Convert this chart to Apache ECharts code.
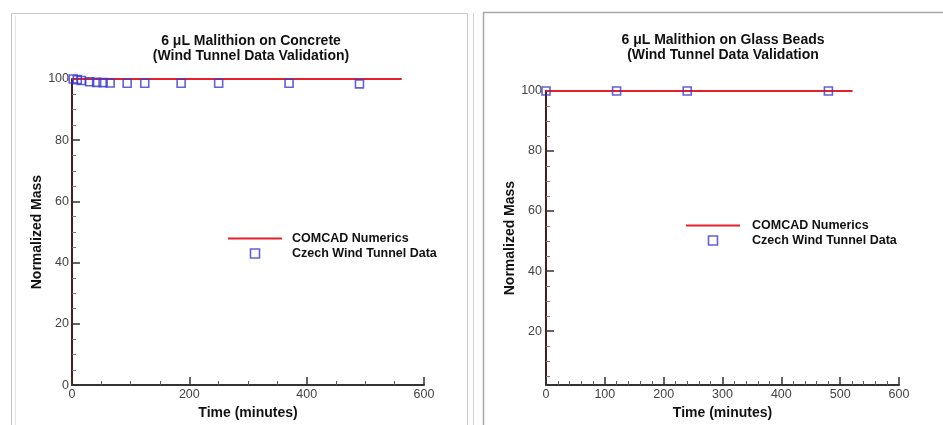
<!DOCTYPE html>
<html><head><meta charset="utf-8">
<script src="https://cdn.jsdelivr.net/npm/echarts@6/dist/echarts.min.js"></script>
<style>html,body{margin:0;padding:0;background:#fff}#c{width:943px;height:425px}</style>
</head><body><div id="c"></div>
<script>
// Left panel: concrete
const concreteLineX = [0, 562];
const concreteLineY = [100, 100];
const concreteTime = [2, 9, 16, 30, 42, 53, 65, 94, 124, 186, 250, 370, 490];
const concreteMass = [100, 99.8, 99.5, 99.1, 98.9, 98.8, 98.7, 98.6, 98.6, 98.6, 98.6, 98.6, 98.4];
// Right panel: glass beads
const beadsLineX = [0, 521];
const beadsLineY = [100, 100];
const beadsTime = [0, 120, 240, 480];
const beadsMass = [100, 100, 100, 100];
// ticks
const rightYTicks = [20, 40, 60, 80, 100];
const rightYMinor = [5, 10, 15, 25, 30, 35, 45, 50, 55, 65, 70, 75, 85, 90, 95];
const seriesNames = ['COMCAD Numerics', 'Czech Wind Tunnel Data'];

const chart = echarts.init(document.getElementById('c'));
const FONT = '"Liberation Sans", Arial, sans-serif';
const lblStyle = {fontFamily: FONT, fontSize: 12.5, color: '#444'};
const nameStyle = {fontFamily: FONT, fontSize: 14, fontWeight: 'bold', color: '#111'};
const yLine = {show: true, lineStyle: {color: '#4a1c1c', width: 2}};
const xLine = {show: true, onZero: false, lineStyle: {color: '#333', width: 2}};
const zip = (a, b) => a.map((v, i) => [v, b[i]]);
const RED = '#e3212b', BLUE = '#3a3ad0';
const legendData = [
  {name: seriesNames[0], icon: 'path://M0 0H54V2H0Z', itemStyle: {color: RED, borderWidth: 0}},
  {name: seriesNames[1], icon: 'path://M0 0H10V10H0Z', itemStyle: {color: 'rgba(255,255,255,0)', borderColor: BLUE, borderWidth: 1.6}}
];
const legendText = {fontFamily: FONT, fontSize: 12.5, fontWeight: 'bold', color: '#111'};

chart.setOption({
  animation: false,
  backgroundColor: '#fff',
  title: [
    {text: '6 \u03bcL Malithion on Concrete\n(Wind Tunnel Data Validation)', left: 246, top: 29, textAlign: 'center',
     textStyle: {fontFamily: FONT, fontSize: 14, fontWeight: 'bold', color: '#111', lineHeight: 15}},
    {text: '6 \u03bcL Malithion on Glass Beads\n(Wind Tunnel Data Validation', left: 718, top: 28, textAlign: 'center',
     textStyle: {fontFamily: FONT, fontSize: 14, fontWeight: 'bold', color: '#111', lineHeight: 15}}
  ],
  legend: [
    {orient: 'vertical', left: 223, top: 227, itemWidth: 54, itemHeight: 9, itemGap: 2, symbolKeepAspect: true,
     data: legendData, textStyle: Object.assign({padding: [0, 0, 0, 5]}, legendText)},
    {orient: 'vertical', left: 681, top: 214, itemWidth: 54, itemHeight: 9, itemGap: 2, symbolKeepAspect: true,
     data: legendData, textStyle: Object.assign({padding: [0, 0, 0, 7]}, legendText)}
  ],
  graphic: [
    {type: 'rect', shape: {x: 11.5, y: 13.5, width: 456, height: 430}, style: {fill: 'none', stroke: '#c8c8c8', lineWidth: 1}, silent: true},
    {type: 'line', shape: {x1: 15.5, y1: 16, x2: 15.5, y2: 425}, style: {stroke: '#e4e4e4', lineWidth: 1}, silent: true},
    {type: 'line', shape: {x1: 473.5, y1: 13, x2: 473.5, y2: 425}, style: {stroke: '#d0d0d0', lineWidth: 1}, silent: true},
    {type: 'rect', shape: {x: 483.5, y: 12.5, width: 470, height: 430}, style: {fill: 'none', stroke: '#a8a8a8', lineWidth: 1.5}, silent: true}
  ],
  grid: [
    {left: 72, right: 519, top: 79, bottom: 39},
    {left: 546, right: 44, top: 91, bottom: 39}
  ],
  xAxis: [
    {type: 'value', gridIndex: 0, min: 0, max: 600, interval: 200, axisLine: xLine,
     axisTick: {inside: true, length: 8, lineStyle: {color: '#333', width: 1.5}},
     minorTick: {show: true, splitNumber: 4, length: 4, lineStyle: {color: '#555'}},
     splitLine: {show: false}, axisLabel: Object.assign({margin: 3}, lblStyle),
     name: 'Time (minutes)', nameLocation: 'middle', nameGap: 14, nameTextStyle: nameStyle},
    {type: 'value', gridIndex: 1, min: 0, max: 600, interval: 100, axisLine: xLine,
     axisTick: {inside: true, length: 8, lineStyle: {color: '#333', width: 1.5}},
     minorTick: {show: true, splitNumber: 5, length: 4, lineStyle: {color: '#555'}},
     splitLine: {show: false}, axisLabel: Object.assign({margin: 3}, lblStyle),
     name: 'Time (minutes)', nameLocation: 'middle', nameGap: 14, nameTextStyle: nameStyle}
  ],
  yAxis: [
    {type: 'value', gridIndex: 0, min: 0, max: 100, interval: 20, axisLine: yLine,
     axisTick: {inside: true, length: 8, lineStyle: {color: '#333', width: 1.5}},
     minorTick: {show: true, splitNumber: 4, length: 4, lineStyle: {color: '#777'}},
     splitLine: {show: false}, axisLabel: Object.assign({margin: 3}, lblStyle),
     name: 'Normalized Mass', nameLocation: 'middle', nameGap: 26, nameTextStyle: nameStyle},
    {type: 'value', gridIndex: 1, position: 'left', min: 2, max: 100, axisLine: yLine,
     axisTick: {inside: true, length: 8, customValues: rightYTicks, lineStyle: {color: '#333', width: 1.5}},
     splitLine: {show: false}, axisLabel: Object.assign({margin: 4, customValues: rightYTicks}, lblStyle),
     name: 'Normalized Mass', nameLocation: 'middle', nameGap: 28, nameTextStyle: nameStyle},
    {type: 'value', gridIndex: 1, position: 'left', offset: 0, min: 2, max: 100, axisLine: {show: false},
     axisTick: {inside: true, length: 4, customValues: rightYMinor, lineStyle: {color: '#777'}},
     splitLine: {show: false}, axisLabel: {show: false}}
  ],
  series: [
    {name: seriesNames[0], type: 'line', xAxisIndex: 0, yAxisIndex: 0, data: zip(concreteLineX, concreteLineY),
     showSymbol: false, symbol: 'none', lineStyle: {color: RED, width: 2}, itemStyle: {color: RED}, z: 2},
    {name: seriesNames[1], type: 'scatter', xAxisIndex: 0, yAxisIndex: 0, data: zip(concreteTime, concreteMass),
     symbol: 'rect', symbolSize: 8, itemStyle: {color: 'rgba(255,255,255,0)', borderColor: BLUE, borderWidth: 1.6}, z: 3},
    {name: seriesNames[0], type: 'line', xAxisIndex: 1, yAxisIndex: 1, data: zip(beadsLineX, beadsLineY),
     showSymbol: false, symbol: 'none', lineStyle: {color: RED, width: 2}, itemStyle: {color: RED}, z: 2},
    {name: seriesNames[1], type: 'scatter', xAxisIndex: 1, yAxisIndex: 1, data: zip(beadsTime, beadsMass),
     symbol: 'rect', symbolSize: 8, itemStyle: {color: 'rgba(255,255,255,0)', borderColor: BLUE, borderWidth: 1.6}, z: 3}
  ]
});
</script></body></html>
